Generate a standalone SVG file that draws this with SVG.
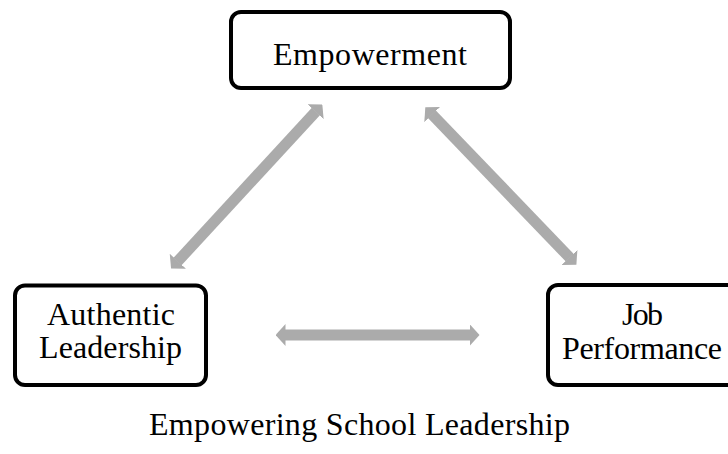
<svg xmlns="http://www.w3.org/2000/svg" width="728" height="454" viewBox="0 0 728 454">
  <style>
    .box { fill: #ffffff; stroke: #000000; stroke-width: 4; }
    .lbl { font-family: "Liberation Serif", "Times New Roman", serif; font-size: 32px; fill: #000000; text-anchor: middle; }
    .arrow { stroke: #ababab; stroke-width: 11; fill: none; marker-start: url(#head); marker-end: url(#head); }
  </style>
  <defs>
    <marker id="head" viewBox="0 0 10 22" refX="0.5" refY="11" markerWidth="10" markerHeight="22" markerUnits="userSpaceOnUse" orient="auto-start-reverse">
      <path d="M0,0 L10,11 L0,22 Z" fill="#ababab"/>
    </marker>
  </defs>
  <rect width="728" height="454" fill="#ffffff"/>
  <g id="connectors">
    <line class="arrow" x1="315.9" y1="111.4" x2="177.5" y2="261.6"/>
    <line class="arrow" x1="431.9" y1="114.2" x2="569.8" y2="257.8"/>
    <line class="arrow" x1="285" y1="335" x2="470" y2="335"/>
  </g>
  <g id="node-empowerment">
    <rect class="box" x="231" y="12" width="279" height="76" rx="10"/>
    <text class="lbl" x="370" y="65" textLength="194" lengthAdjust="spacing">Empowerment</text>
  </g>
  <g id="node-authentic-leadership">
    <rect class="box" x="15" y="285.5" width="191" height="99.5" rx="10"/>
    <text class="lbl" x="111" y="325" textLength="128" lengthAdjust="spacing">Authentic</text>
    <text class="lbl" x="110.5" y="358" textLength="143" lengthAdjust="spacing">Leadership</text>
  </g>
  <g id="node-job-performance">
    <rect class="box" x="548" y="285" width="191" height="100" rx="10"/>
    <text class="lbl" x="642.5" y="325" textLength="41" lengthAdjust="spacing">Job</text>
    <text class="lbl" x="642" y="359" textLength="160" lengthAdjust="spacing">Performance</text>
  </g>
  <g id="caption">
    <text class="lbl" x="359.5" y="435" textLength="421" lengthAdjust="spacing">Empowering School Leadership</text>
  </g>
</svg>
